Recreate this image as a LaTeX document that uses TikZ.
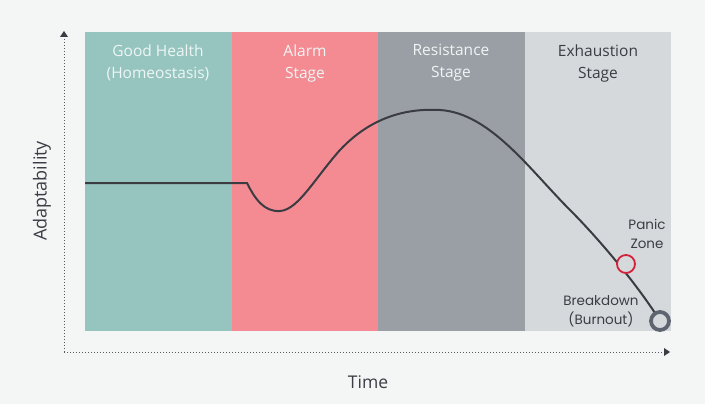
\documentclass[tikz,border=0pt]{standalone}
\usepackage{fontspec}
\setmainfont{Open Sans}
\newfontfamily\geofont{Poppins}
\definecolor{bgc}{HTML}{F4F6F6}
\definecolor{teal}{HTML}{96C5C0}
\definecolor{pinkb}{HTML}{F48B93}
\definecolor{grayb}{HTML}{9A9EA5}
\definecolor{lightb}{HTML}{D6D9DC}
\definecolor{curvec}{HTML}{3A3C42}
\definecolor{lighttxt}{HTML}{EEF6F5}
\definecolor{darktxt}{HTML}{3A3E44}
\definecolor{redc}{HTML}{D4213A}
\definecolor{ringc}{HTML}{5E6570}
\definecolor{axisc}{HTML}{555A60}
\begin{document}
\begin{tikzpicture}[x=1pt,y=-1pt,
  band/.style={draw=none,minimum height=299pt,minimum width=146.5pt,inner sep=0pt,anchor=north west},
  head/.style={font=\fontsize{15.5}{22}\selectfont,align=center,anchor=north},
  axisline/.style={draw=axisc,line width=1pt,dash pattern=on 1pt off 2pt},
  small/.style={font=\geofont\fontsize{13.5}{19}\selectfont,align=center,text=darktxt}]
\fill[bgc] (0,0) rectangle (705,404);
\useasboundingbox (0,0) rectangle (705,404);
\node[band,fill=teal] (b1) at (85,32) {};
\node[band,fill=pinkb] (b2) at (231.5,32) {};
\node[band,fill=grayb] (b3) at (378,32) {};
\node[band,fill=lightb] (b4) at (524.5,32) {};
\node[head,text=lighttxt] (t1) at (158,41) {Good Health\\(Homeostasis)};
\node[head,text=lighttxt] (t2) at (305,41) {Alarm\\Stage};
\node[head,text=lighttxt] (t3) at (451,41) {Resistance\\Stage};
\node[head,text=darktxt] (t4) at (598,41) {Exhaustion\\Stage};
% axes
\coordinate (o) at (64,352);
\coordinate (ytop) at (64,32);
\coordinate (xend) at (669,352);
\draw[axisline] (o) -- (ytop);
\draw[axisline] (o) -- (xend);
\fill[darktxt] (ytop) ++(-4,5) -- ++(4,-6) -- ++(4,6) -- cycle;
\fill[darktxt] (xend) ++(-5,-4) -- ++(6,4) -- ++(-6,4) -- cycle;
\node[rotate=90,font=\fontsize{18}{20}\selectfont,text=darktxt] (ylab) at (42,191) {Adaptability};
\node[font=\fontsize{17.5}{20}\selectfont,text=darktxt] (xlab) at (368,382) {Time};
% curve
\coordinate (c0) at (85,183);
\coordinate (c1) at (247,183);
\coordinate (brkc) at (660,321);
\draw[curvec,line width=2pt] (c0) -- (c1)
  .. controls (255,199) and (264,212) .. (280,211)
  .. controls (298,210) and (315,178) .. (340,150)
  .. controls (370,118) and (405,108) .. (440,110)
  .. controls (490,113) and (530,170) .. (570,210)
  .. controls (600,240) and (640,288) .. (brkc);
\node[circle,draw=redc,fill=lightb,line width=1.8pt,minimum size=18pt,inner sep=0pt] (panic) at (626,264) {};
\node[circle,draw=ringc,fill=lightb,line width=3.8pt,minimum size=18pt,inner sep=0pt] (brk) at (brkc) {};
\node[small] (pl) at (647,234) {Panic\\Zone};
\node[small] (bl) at (601,311) {Breakdown\\(Burnout)};
\end{tikzpicture}
\end{document}
